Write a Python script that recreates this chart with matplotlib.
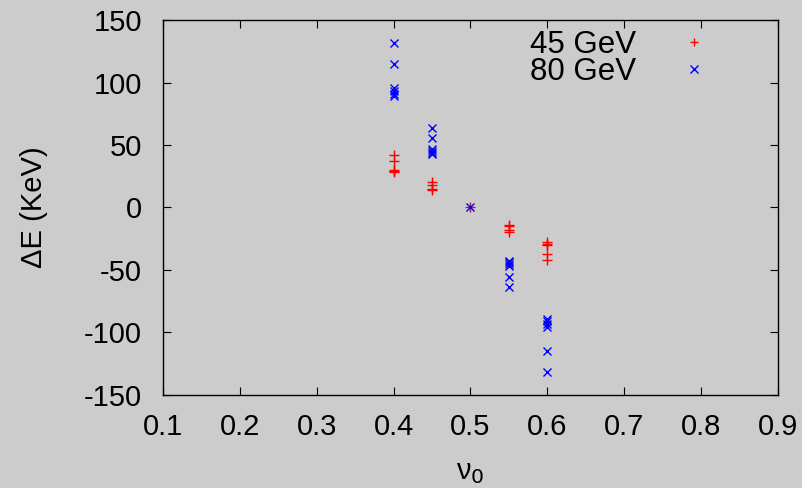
import numpy as np
import matplotlib
matplotlib.use("Agg")
import matplotlib.pyplot as plt

plt.rcParams['font.family'] = ['Liberation Sans', 'DejaVu Sans']

# 45 GeV points
nu_45 = [0.40, 0.40, 0.40, 0.40, 0.40,
         0.45, 0.45, 0.45, 0.45,
         0.50,
         0.55, 0.55, 0.55, 0.55,
         0.60, 0.60, 0.60, 0.60, 0.60]
dE_45 = [42, 37, 30, 29, 28,
         20, 18, 15, 14,
         0,
         -14, -15, -18, -20,
         -28, -29, -30, -37, -42]

# 80 GeV points
nu_80 = [0.40, 0.40, 0.40, 0.40, 0.40, 0.40,
         0.45, 0.45, 0.45, 0.45, 0.45, 0.45,
         0.50,
         0.55, 0.55, 0.55, 0.55, 0.55, 0.55,
         0.60, 0.60, 0.60, 0.60, 0.60, 0.60]
dE_80 = [132, 115, 96, 93, 91, 89,
         64, 56, 47, 45, 44, 43,
         0,
         -43, -44, -45, -47, -56, -64,
         -89, -91, -93, -96, -115, -132]

xticks = [0.1, 0.2, 0.3, 0.4, 0.5, 0.6, 0.7, 0.8, 0.9]
yticks = [-150, -100, -50, 0, 50, 100, 150]

bg = '#cccccc'
fig = plt.figure(figsize=(8.02, 4.88), dpi=100, facecolor=bg)
ax = fig.add_axes([0.2032, 0.1906, 0.7668, 0.7684], facecolor=bg)

ax.plot(nu_45, dE_45, linestyle='none', marker='+', color='#ff0000',
        markersize=7, markeredgewidth=1.0, label='45 GeV')
ax.plot(nu_80, dE_80, linestyle='none', marker='x', color='#0000ff',
        markersize=6, markeredgewidth=1.0, label='80 GeV')

ax.set_xlim(0.1, 0.9)
ax.set_ylim(-150, 150)
ax.set_xticks(xticks)
ax.set_yticks(yticks)
ax.set_xticklabels([f'{v:.1f}' for v in xticks])
ax.set_yticklabels([str(v) for v in yticks])
ax.tick_params(direction='in', length=6, width=0.8, top=True, right=True,
               labelsize=21)
ax.tick_params(axis='y', pad=15)
ax.tick_params(axis='x', pad=13)
for s in ax.spines.values():
    s.set_linewidth(1.0)

ax.set_xlabel('ν$_0$', fontsize=21, labelpad=12)
ax.set_ylabel('ΔE (KeV)', fontsize=21, labelpad=26)

leg = ax.legend(loc='upper right', bbox_to_anchor=(0.876, 0.974), frameon=False,
                markerfirst=False, fontsize=22.5, handlelength=0.5,
                handletextpad=1.6, labelspacing=-0.09, borderpad=0,
                borderaxespad=0, markerscale=0.9)

fig.savefig('out.png', dpi=100, facecolor=bg)
